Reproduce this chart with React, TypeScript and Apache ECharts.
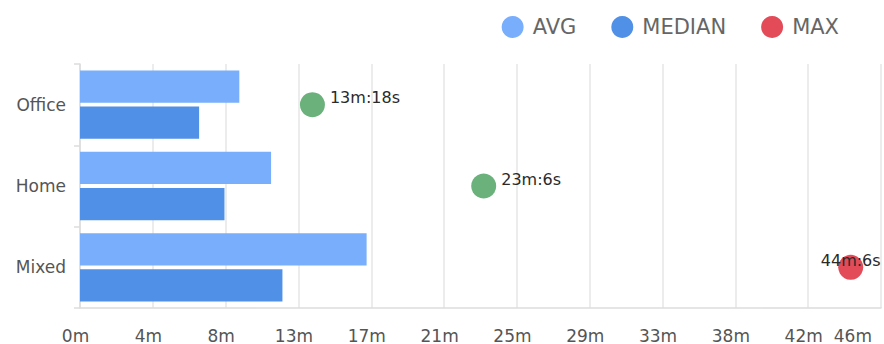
import React, { useEffect, useRef } from "react";
import * as echarts from "echarts";

const categories = ["Office", "Home", "Mixed"];
const avgSeconds = [547, 656, 984];
const medianSeconds = [409, 496, 695];
const maxSeconds = [798, 1386, 2646];
const maxColors = ["#6ab17b", "#6ab17b", "#e34b59"];
const legendNames = ["AVG", "MEDIAN", "MAX"];

const fmtMin = (v: number) => `${Math.round(v / 60)}m`;
const fmtMinSec = (v: number) => `${Math.floor(v / 60)}m:${v % 60}s`;

export default function App() {
  const ref = useRef<HTMLDivElement>(null);
  useEffect(() => {
    if (!ref.current) return;
    const chart = echarts.init(ref.current, undefined, { renderer: "svg" });
    const font = "DejaVu Sans";
    chart.setOption({
      animation: false,
      backgroundColor: "#ffffff",
      textStyle: { fontFamily: font },
      legend: {
        data: legendNames,
        top: 11,
        right: 40,
        icon: "circle",
        itemWidth: 22,
        itemHeight: 22,
        itemGap: 35,
        textStyle: { fontFamily: font, fontSize: 21, color: "#666", padding: [0, 0, 0, 4] },
      },
      grid: { left: 80, right: 3, top: 64, bottom: 36, containLabel: false },
      xAxis: {
        type: "value",
        min: 0,
        max: 2750,
        interval: 250,
        axisLine: { show: true, lineStyle: { color: "#dcdcdc", width: 1.5 } },
        axisTick: { show: false },
        splitLine: { show: true, lineStyle: { color: "#e6e6e6", width: 1.5 } },
        axisLabel: {
          formatter: fmtMin,
          fontFamily: font,
          fontSize: 17,
          color: "#555",
          margin: 19,
          padding: [0, 9, 0, 0],
          alignMaxLabel: "right",
        },
      },
      yAxis: {
        type: "category",
        data: categories,
        inverse: true,
        axisLine: { show: true, lineStyle: { color: "#dcdcdc", width: 1.5 } },
        axisTick: { show: true, length: 6, lineStyle: { color: "#dcdcdc", width: 1.5 } },
        splitLine: { show: false },
        axisLabel: { fontFamily: font, fontSize: 17, color: "#555", margin: 14 },
      },
      series: [
        {
          name: "AVG",
          type: "bar",
          data: avgSeconds,
          itemStyle: { color: "#78aefc" },
          barGap: "12%",
          barCategoryGap: "16%",
        },
        {
          name: "MEDIAN",
          type: "bar",
          data: medianSeconds,
          itemStyle: { color: "#5090e6" },
          barGap: "12%",
          barCategoryGap: "16%",
        },
        {
          name: "MAX",
          type: "scatter",
          symbolSize: 25,
          itemStyle: { color: "#e34b59", opacity: 1 },
          z: 5,
          label: {
            show: true,
            position: "right",
            distance: 5,
            offset: [0, -7],
            fontFamily: font,
            fontSize: 16,
            color: "#2a2a2a",
            formatter: (p: any) => fmtMinSec(p.value[0]),
          },
          data: maxSeconds.map((v, i) => ({
            value: [v, i],
            itemStyle: { color: maxColors[i], opacity: 1 },
            label:
              i === maxSeconds.length - 1
                ? { position: "inside", offset: [0, -7] }
                : undefined,
          })),
        },
      ],
    });
    return () => chart.dispose();
  }, []);
  return (
    <div
      ref={ref}
      style={{ position: "fixed", left: 0, top: 0, width: 884, height: 344 }}
    />
  );
}
